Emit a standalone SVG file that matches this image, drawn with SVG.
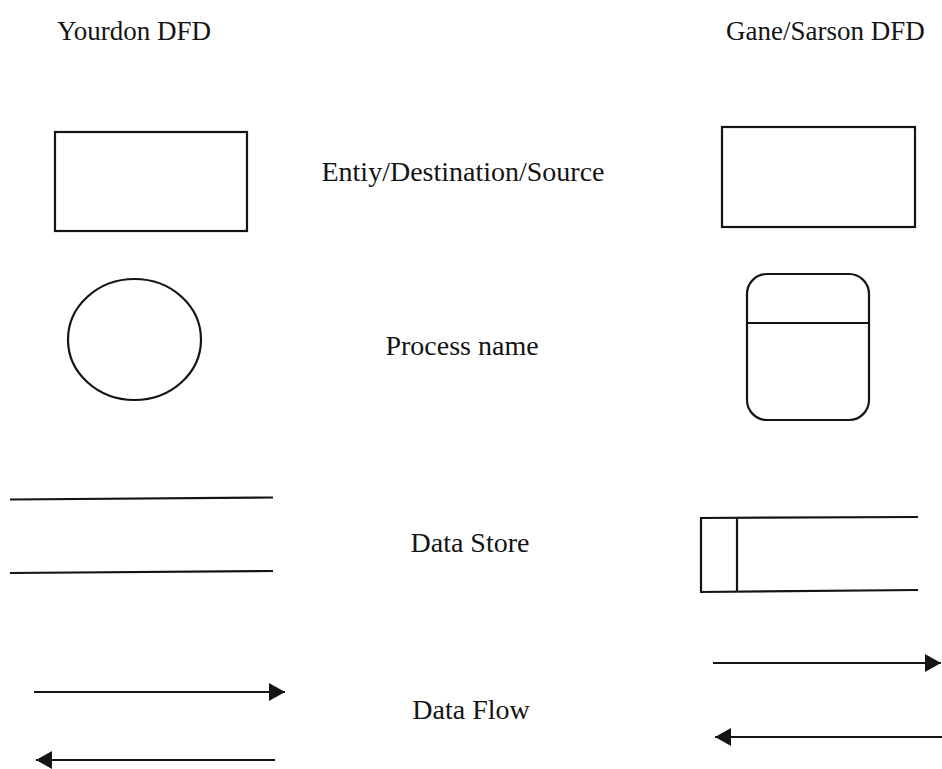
<svg xmlns="http://www.w3.org/2000/svg" width="942" height="769" viewBox="0 0 942 769">
<style>
.s{fill:none;stroke:#141414;stroke-width:2.2}
.t{font-family:"Liberation Serif","Times New Roman",serif;font-size:27px;fill:#141414}
.c{text-anchor:middle;font-size:28px}
</style>
<defs>
<marker id="ah" markerUnits="userSpaceOnUse" markerWidth="17" markerHeight="18" refX="16" refY="9" orient="auto">
<path d="M0,0 L16,9 L0,18 z" fill="#141414"/>
</marker>
</defs>
<rect width="942" height="769" fill="#ffffff"/>
<g id="titles">
<text class="t" x="57" y="40">Yourdon DFD</text>
<text class="t" x="726" y="40">Gane/Sarson DFD</text>
</g>
<g id="labels">
<text class="t c" x="463" y="181">Entiy/Destination/Source</text>
<text class="t c" x="462" y="355">Process name</text>
<text class="t c" x="470" y="552">Data Store</text>
<text class="t c" x="471" y="719">Data Flow</text>
</g>
<g id="yourdon-entity"><rect class="s" x="55" y="132" width="192" height="99"/></g>
<g id="yourdon-process"><ellipse class="s" cx="134.5" cy="339.5" rx="66.5" ry="60.5"/></g>
<g id="yourdon-store">
<line class="s" x1="10" y1="499.5" x2="273" y2="497.5"/>
<line class="s" x1="10" y1="573" x2="273" y2="571"/>
</g>
<g id="gane-entity"><rect class="s" x="722" y="127" width="193" height="100"/></g>
<g id="gane-process">
<rect class="s" x="747" y="274" width="122" height="146" rx="20" ry="20"/>
<line class="s" x1="747" y1="323" x2="869" y2="323"/>
</g>
<g id="gane-store">
<path class="s" d="M918,517 L701,518 L701,592 L918,590"/>
<line class="s" x1="737" y1="518" x2="737" y2="591"/>
</g>
<g id="connectors">
<line class="s" x1="34" y1="692" x2="285" y2="692" marker-end="url(#ah)"/>
<line class="s" x1="275" y1="760" x2="36" y2="760" marker-end="url(#ah)"/>
<line class="s" x1="713" y1="663" x2="941" y2="663" marker-end="url(#ah)"/>
<line class="s" x1="942" y1="737" x2="715" y2="737" marker-end="url(#ah)"/>
</g>
</svg>
